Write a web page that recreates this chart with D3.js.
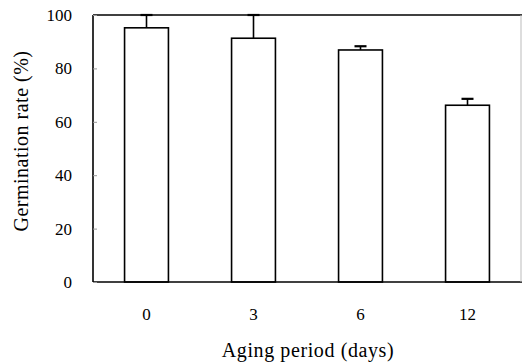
<!DOCTYPE html>
<html>
<head>
<meta charset="utf-8">
<script src="https://cdn.jsdelivr.net/npm/d3@7"></script>
<style>
  html, body { margin: 0; padding: 0; background: #fff; }
  svg { display: block; }
  text { font-family: "Liberation Serif", "Times New Roman", serif; fill: #000; }
</style>
</head>
<body>
<svg id="chart" width="522" height="362"></svg>
<script>
const categories = ["0", "3", "6", "12"];
const values = [95.2, 91.3, 86.9, 66.2];
const errors = [4.8, 8.7, 1.4, 2.4];
const yTicks = [0, 20, 40, 60, 80, 100];
const xTitle = "Aging period (days)";
const yTitle = "Germination rate (%)";

(function () {
const svg = d3.select("#chart");
const pLeft = 93, pRight = 521, pTop = 15, pBottom = 282;

const x = d3.scaleBand().domain(categories).range([pLeft, pRight])
  .paddingInner(0.59).paddingOuter(0.295);
const y = d3.scaleLinear().domain([0, 100]).range([pBottom, pTop]);

const data = categories.map((c, i) => ({ c, v: values[i], e: errors[i] }));

// bars
svg.append("g").selectAll("rect").data(data).join("rect")
  .attr("x", d => x(d.c))
  .attr("y", d => y(d.v))
  .attr("width", x.bandwidth())
  .attr("height", d => y(0) - y(d.v))
  .attr("fill", "#fff")
  .attr("stroke", "#000")
  .attr("stroke-width", 1.6);

// error bars
const eg = svg.append("g").attr("stroke", "#000").attr("stroke-width", 1.6);
eg.selectAll("line.v").data(data).join("line").attr("class", "v")
  .attr("x1", d => x(d.c) + x.bandwidth() / 2)
  .attr("x2", d => x(d.c) + x.bandwidth() / 2)
  .attr("y1", d => y(d.v))
  .attr("y2", d => y(Math.min(100, d.v + d.e)));
eg.selectAll("line.cap").data(data).join("line").attr("class", "cap")
  .attr("x1", d => x(d.c) + x.bandwidth() / 2 - 6)
  .attr("x2", d => x(d.c) + x.bandwidth() / 2 + 6)
  .attr("y1", d => y(Math.min(100, d.v + d.e)))
  .attr("y2", d => y(Math.min(100, d.v + d.e)))
  .attr("stroke-width", 2.2);

// frame
svg.append("line").attr("x1", pLeft).attr("x2", pLeft).attr("y1", pTop).attr("y2", pBottom)
  .attr("stroke", "#000").attr("stroke-width", 1.6);
svg.append("line").attr("x1", pLeft).attr("x2", 522).attr("y1", pTop).attr("y2", pTop)
  .attr("stroke", "#000").attr("stroke-width", 1.6);
svg.append("line").attr("x1", pLeft).attr("x2", 522).attr("y1", pBottom).attr("y2", pBottom)
  .attr("stroke", "#000").attr("stroke-width", 1.6);
svg.append("line").attr("x1", pRight).attr("x2", pRight).attr("y1", pTop).attr("y2", pBottom)
  .attr("stroke", "#bbb").attr("stroke-width", 1);

// y axis (inward faint ticks + labels)
const yAxis = d3.axisLeft(y).tickValues(yTicks).tickSizeInner(-4).tickSizeOuter(0).tickPadding(21);
const ya = svg.append("g").attr("transform", `translate(${pLeft},0)`).call(yAxis);
ya.select(".domain").remove();
ya.selectAll(".tick line").attr("stroke", "#999").attr("stroke-width", 1);
ya.selectAll(".tick text").attr("font-size", 17).attr("font-family", "Liberation Serif").attr("fill", "#000");

// x axis labels
const xAxis = d3.axisBottom(x).tickSize(0).tickPadding(26);
const xa = svg.append("g").attr("transform", `translate(0,${pBottom})`).call(xAxis);
xa.select(".domain").remove();
xa.selectAll(".tick text").attr("font-size", 17).attr("font-family", "Liberation Serif").attr("fill", "#000");

// titles
svg.append("text").attr("x", (pLeft + pRight) / 2 + 1).attr("y", 357)
  .attr("text-anchor", "middle").attr("font-size", 20).attr("letter-spacing", 0.6)
  .text(xTitle);
svg.append("text").attr("transform", "translate(28,141) rotate(-90)")
  .attr("text-anchor", "middle").attr("font-size", 20).attr("letter-spacing", 0.5)
  .text(yTitle);
})();
</script>
</body>
</html>
